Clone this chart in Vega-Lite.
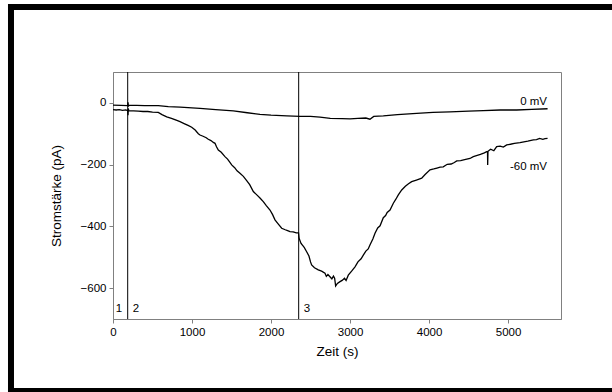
{
  "$schema": "https://vega.github.io/schema/vega-lite/v6.json",
  "width": 448,
  "height": 247,
  "autosize": {"type": "none"},
  "padding": {"left": 113, "top": 72, "right": 51, "bottom": 73},
  "background": "white",
  "config": {
    "font": "Liberation Sans",
    "view": {"stroke": "#808080", "strokeWidth": 1},
    "axis": {
      "grid": false,
      "domainColor": "#808080",
      "tickColor": "#808080",
      "tickSize": 4,
      "labelFont": "Liberation Sans",
      "labelFontSize": 11.5,
      "labelColor": "black",
      "titleFont": "Liberation Sans",
      "titleFontSize": 13.5,
      "titleFontWeight": "normal",
      "titleColor": "black"
    }
  },
  "datasets": {
    "traces": [
      {"t": 0, "I": -22, "s": "-60 mV"}, {"t": 40, "I": -23, "s": "-60 mV"}, {"t": 80, "I": -22, "s": "-60 mV"}, {"t": 120, "I": -24, "s": "-60 mV"}, {"t": 160, "I": -23, "s": "-60 mV"}, {"t": 186, "I": -25, "s": "-60 mV"}, {"t": 190, "I": -40, "s": "-60 mV"}, {"t": 194, "I": -18, "s": "-60 mV"}, {"t": 200, "I": -26, "s": "-60 mV"}, {"t": 260, "I": -26, "s": "-60 mV"}, {"t": 320, "I": -27, "s": "-60 mV"}, {"t": 380, "I": -28, "s": "-60 mV"}, {"t": 440, "I": -28, "s": "-60 mV"}, {"t": 500, "I": -30, "s": "-60 mV"}, {"t": 573, "I": -31, "s": "-60 mV"}, {"t": 620, "I": -38, "s": "-60 mV"}, {"t": 680, "I": -45, "s": "-60 mV"}, {"t": 740, "I": -50, "s": "-60 mV"}, {"t": 800, "I": -56, "s": "-60 mV"}, {"t": 848, "I": -61, "s": "-60 mV"}, {"t": 900, "I": -67, "s": "-60 mV"}, {"t": 950, "I": -73, "s": "-60 mV"}, {"t": 996, "I": -79, "s": "-60 mV"}, {"t": 1040, "I": -88, "s": "-60 mV"}, {"t": 1080, "I": -100, "s": "-60 mV"}, {"t": 1101, "I": -104, "s": "-60 mV"}, {"t": 1140, "I": -108, "s": "-60 mV"}, {"t": 1180, "I": -113, "s": "-60 mV"}, {"t": 1206, "I": -118, "s": "-60 mV"}, {"t": 1240, "I": -122, "s": "-60 mV"}, {"t": 1270, "I": -128, "s": "-60 mV"}, {"t": 1291, "I": -131, "s": "-60 mV"}, {"t": 1310, "I": -142, "s": "-60 mV"}, {"t": 1333, "I": -153, "s": "-60 mV"}, {"t": 1370, "I": -160, "s": "-60 mV"}, {"t": 1417, "I": -174, "s": "-60 mV"}, {"t": 1450, "I": -182, "s": "-60 mV"}, {"t": 1480, "I": -193, "s": "-60 mV"}, {"t": 1502, "I": -201, "s": "-60 mV"}, {"t": 1540, "I": -210, "s": "-60 mV"}, {"t": 1570, "I": -220, "s": "-60 mV"}, {"t": 1607, "I": -228, "s": "-60 mV"}, {"t": 1650, "I": -238, "s": "-60 mV"}, {"t": 1692, "I": -252, "s": "-60 mV"}, {"t": 1730, "I": -265, "s": "-60 mV"}, {"t": 1776, "I": -287, "s": "-60 mV"}, {"t": 1820, "I": -298, "s": "-60 mV"}, {"t": 1860, "I": -308, "s": "-60 mV"}, {"t": 1902, "I": -320, "s": "-60 mV"}, {"t": 1940, "I": -333, "s": "-60 mV"}, {"t": 1987, "I": -347, "s": "-60 mV"}, {"t": 2020, "I": -362, "s": "-60 mV"}, {"t": 2050, "I": -379, "s": "-60 mV"}, {"t": 2090, "I": -392, "s": "-60 mV"}, {"t": 2135, "I": -406, "s": "-60 mV"}, {"t": 2180, "I": -411, "s": "-60 mV"}, {"t": 2210, "I": -414, "s": "-60 mV"}, {"t": 2240, "I": -417, "s": "-60 mV"}, {"t": 2280, "I": -418, "s": "-60 mV"}, {"t": 2320, "I": -421, "s": "-60 mV"}, {"t": 2348, "I": -421, "s": "-60 mV"}, {"t": 2355, "I": -438, "s": "-60 mV"}, {"t": 2380, "I": -455, "s": "-60 mV"}, {"t": 2420, "I": -468, "s": "-60 mV"}, {"t": 2451, "I": -482, "s": "-60 mV"}, {"t": 2480, "I": -496, "s": "-60 mV"}, {"t": 2500, "I": -515, "s": "-60 mV"}, {"t": 2514, "I": -525, "s": "-60 mV"}, {"t": 2550, "I": -534, "s": "-60 mV"}, {"t": 2598, "I": -541, "s": "-60 mV"}, {"t": 2640, "I": -545, "s": "-60 mV"}, {"t": 2683, "I": -552, "s": "-60 mV"}, {"t": 2700, "I": -562, "s": "-60 mV"}, {"t": 2720, "I": -556, "s": "-60 mV"}, {"t": 2746, "I": -563, "s": "-60 mV"}, {"t": 2770, "I": -570, "s": "-60 mV"}, {"t": 2790, "I": -561, "s": "-60 mV"}, {"t": 2805, "I": -568, "s": "-60 mV"}, {"t": 2818, "I": -593, "s": "-60 mV"}, {"t": 2840, "I": -585, "s": "-60 mV"}, {"t": 2873, "I": -579, "s": "-60 mV"}, {"t": 2900, "I": -575, "s": "-60 mV"}, {"t": 2930, "I": -568, "s": "-60 mV"}, {"t": 2950, "I": -575, "s": "-60 mV"}, {"t": 2978, "I": -558, "s": "-60 mV"}, {"t": 3020, "I": -545, "s": "-60 mV"}, {"t": 3063, "I": -531, "s": "-60 mV"}, {"t": 3100, "I": -515, "s": "-60 mV"}, {"t": 3140, "I": -505, "s": "-60 mV"}, {"t": 3168, "I": -493, "s": "-60 mV"}, {"t": 3200, "I": -480, "s": "-60 mV"}, {"t": 3230, "I": -473, "s": "-60 mV"}, {"t": 3252, "I": -460, "s": "-60 mV"}, {"t": 3290, "I": -440, "s": "-60 mV"}, {"t": 3316, "I": -422, "s": "-60 mV"}, {"t": 3350, "I": -405, "s": "-60 mV"}, {"t": 3380, "I": -398, "s": "-60 mV"}, {"t": 3421, "I": -372, "s": "-60 mV"}, {"t": 3450, "I": -365, "s": "-60 mV"}, {"t": 3470, "I": -355, "s": "-60 mV"}, {"t": 3506, "I": -347, "s": "-60 mV"}, {"t": 3548, "I": -325, "s": "-60 mV"}, {"t": 3580, "I": -312, "s": "-60 mV"}, {"t": 3611, "I": -298, "s": "-60 mV"}, {"t": 3654, "I": -282, "s": "-60 mV"}, {"t": 3700, "I": -270, "s": "-60 mV"}, {"t": 3740, "I": -262, "s": "-60 mV"}, {"t": 3780, "I": -255, "s": "-60 mV"}, {"t": 3840, "I": -250, "s": "-60 mV"}, {"t": 3907, "I": -244, "s": "-60 mV"}, {"t": 3950, "I": -232, "s": "-60 mV"}, {"t": 4012, "I": -217, "s": "-60 mV"}, {"t": 4060, "I": -214, "s": "-60 mV"}, {"t": 4100, "I": -211, "s": "-60 mV"}, {"t": 4140, "I": -208, "s": "-60 mV"}, {"t": 4180, "I": -207, "s": "-60 mV"}, {"t": 4230, "I": -199, "s": "-60 mV"}, {"t": 4280, "I": -198, "s": "-60 mV"}, {"t": 4320, "I": -193, "s": "-60 mV"}, {"t": 4350, "I": -188, "s": "-60 mV"}, {"t": 4400, "I": -187, "s": "-60 mV"}, {"t": 4450, "I": -184, "s": "-60 mV"}, {"t": 4518, "I": -180, "s": "-60 mV"}, {"t": 4560, "I": -174, "s": "-60 mV"}, {"t": 4600, "I": -171, "s": "-60 mV"}, {"t": 4650, "I": -167, "s": "-60 mV"}, {"t": 4700, "I": -162, "s": "-60 mV"}, {"t": 4729, "I": -158, "s": "-60 mV"}, {"t": 4740, "I": -158, "s": "-60 mV"}, {"t": 4742, "I": -201, "s": "-60 mV"}, {"t": 4746, "I": -157, "s": "-60 mV"}, {"t": 4780, "I": -150, "s": "-60 mV"}, {"t": 4820, "I": -155, "s": "-60 mV"}, {"t": 4856, "I": -142, "s": "-60 mV"}, {"t": 4900, "I": -140, "s": "-60 mV"}, {"t": 4940, "I": -143, "s": "-60 mV"}, {"t": 4983, "I": -136, "s": "-60 mV"}, {"t": 5030, "I": -134, "s": "-60 mV"}, {"t": 5080, "I": -131, "s": "-60 mV"}, {"t": 5151, "I": -129, "s": "-60 mV"}, {"t": 5200, "I": -126, "s": "-60 mV"}, {"t": 5250, "I": -124, "s": "-60 mV"}, {"t": 5320, "I": -120, "s": "-60 mV"}, {"t": 5360, "I": -119, "s": "-60 mV"}, {"t": 5400, "I": -115, "s": "-60 mV"}, {"t": 5440, "I": -118, "s": "-60 mV"}, {"t": 5467, "I": -116, "s": "-60 mV"}, {"t": 5500, "I": -115, "s": "-60 mV"},
      {"t": 0, "I": -7, "s": "0 mV"}, {"t": 100, "I": -8, "s": "0 mV"}, {"t": 186, "I": -9, "s": "0 mV"}, {"t": 190, "I": 2, "s": "0 mV"}, {"t": 195, "I": -12, "s": "0 mV"}, {"t": 200, "I": -8, "s": "0 mV"}, {"t": 300, "I": -8, "s": "0 mV"}, {"t": 400, "I": -9, "s": "0 mV"}, {"t": 573, "I": -9, "s": "0 mV"}, {"t": 700, "I": -12, "s": "0 mV"}, {"t": 850, "I": -14, "s": "0 mV"}, {"t": 1000, "I": -16, "s": "0 mV"}, {"t": 1101, "I": -18, "s": "0 mV"}, {"t": 1300, "I": -22, "s": "0 mV"}, {"t": 1523, "I": -26, "s": "0 mV"}, {"t": 1700, "I": -32, "s": "0 mV"}, {"t": 1860, "I": -37, "s": "0 mV"}, {"t": 2000, "I": -40, "s": "0 mV"}, {"t": 2200, "I": -42, "s": "0 mV"}, {"t": 2367, "I": -44, "s": "0 mV"}, {"t": 2500, "I": -44, "s": "0 mV"}, {"t": 2620, "I": -46, "s": "0 mV"}, {"t": 2750, "I": -50, "s": "0 mV"}, {"t": 2900, "I": -51, "s": "0 mV"}, {"t": 3000, "I": -52, "s": "0 mV"}, {"t": 3100, "I": -50, "s": "0 mV"}, {"t": 3200, "I": -49, "s": "0 mV"}, {"t": 3252, "I": -53, "s": "0 mV"}, {"t": 3300, "I": -44, "s": "0 mV"}, {"t": 3421, "I": -42, "s": "0 mV"}, {"t": 3600, "I": -38, "s": "0 mV"}, {"t": 3843, "I": -34, "s": "0 mV"}, {"t": 4050, "I": -31, "s": "0 mV"}, {"t": 4265, "I": -29, "s": "0 mV"}, {"t": 4500, "I": -27, "s": "0 mV"}, {"t": 4687, "I": -25, "s": "0 mV"}, {"t": 4900, "I": -23, "s": "0 mV"}, {"t": 5109, "I": -23, "s": "0 mV"}, {"t": 5300, "I": -21, "s": "0 mV"}, {"t": 5500, "I": -19, "s": "0 mV"}
    ]
  },
  "layer": [
    {
      "data": {"name": "traces"},
      "mark": {"type": "line", "color": "black", "strokeWidth": 1.3, "clip": true},
      "encoding": {
        "x": {"field": "t", "type": "quantitative", "scale": {"domain": [0, 5670], "nice": false, "zero": false},
              "axis": {"title": "Zeit (s)", "values": [0, 1000, 2000, 3000, 4000, 5000], "format": "d", "labelFlush": false, "labelPadding": 3, "titlePadding": 7}},
        "y": {"field": "I", "type": "quantitative", "scale": {"domain": [-700, 100], "nice": false, "zero": false},
              "axis": {"title": "Stromstärke (pA)", "values": [0, -200, -400, -600], "labelPadding": 3, "titlePadding": 17}},
        "detail": {"field": "s", "type": "nominal"}
      }
    },
    {
      "data": {"values": [{"t": 186}, {"t": 2350}]},
      "mark": {"type": "rule", "color": "black", "strokeWidth": 1},
      "encoding": {"x": {"field": "t", "type": "quantitative"}}
    },
    {
      "data": {"values": [{"t": 76, "I": -667, "label": "1"}, {"t": 291, "I": -667, "label": "2"}, {"t": 2455, "I": -667, "label": "3"}]},
      "mark": {"type": "text", "fontSize": 11.5, "color": "black", "align": "center", "baseline": "middle"},
      "encoding": {
        "x": {"field": "t", "type": "quantitative"},
        "y": {"field": "I", "type": "quantitative"},
        "text": {"field": "label"}
      }
    },
    {
      "data": {"values": [{"t": 5493, "I": 4, "label": "0 mV"}, {"t": 5493, "I": -209, "label": "-60 mV"}]},
      "mark": {"type": "text", "fontSize": 11.5, "color": "black", "align": "right", "baseline": "middle"},
      "encoding": {
        "x": {"field": "t", "type": "quantitative"},
        "y": {"field": "I", "type": "quantitative"},
        "text": {"field": "label"}
      }
    },
    {
      "data": {"values": [{"k": 1}]},
      "mark": {"type": "rule", "color": "black", "strokeWidth": 6, "strokeCap": "square", "clip": false},
      "encoding": {
        "x": {"datum": -1291, "type": "quantitative"},
        "y": {"datum": 310.5, "type": "quantitative"},
        "y2": {"datum": -933}
      }
    },
    {
      "data": {"values": [{"k": 1}]},
      "mark": {"type": "rule", "color": "black", "strokeWidth": 6, "strokeCap": "square", "clip": false},
      "encoding": {
        "x": {"datum": -1291, "type": "quantitative"},
        "x2": {"datum": 8000},
        "y": {"datum": 310.5, "type": "quantitative"}
      }
    },
    {
      "data": {"values": [{"k": 1}]},
      "mark": {"type": "rule", "color": "black", "strokeWidth": 6, "strokeCap": "square", "clip": false},
      "encoding": {
        "x": {"datum": -1291, "type": "quantitative"},
        "x2": {"datum": 8000},
        "y": {"datum": -933, "type": "quantitative"}
      }
    }
  ]
}
